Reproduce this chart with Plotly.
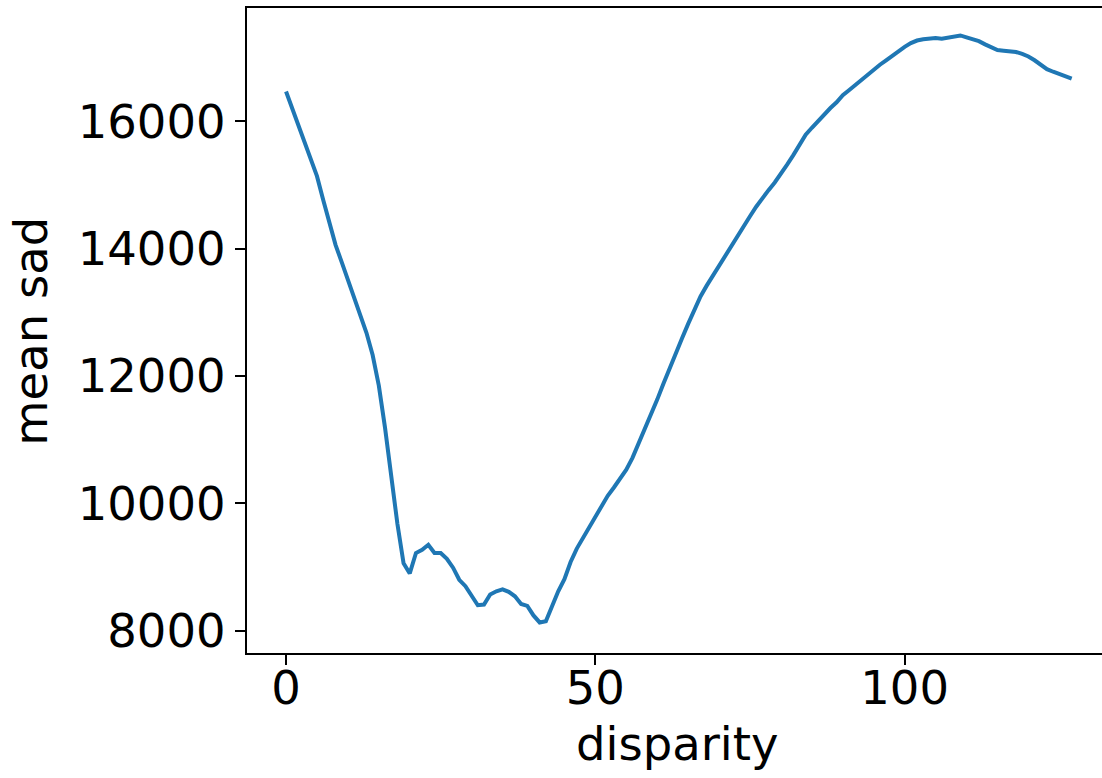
import plotly.graph_objects as go

disparity = list(range(128))
mean_sad = [
    16470, 16210, 15960, 15700, 15430, 15140, 14770, 14390, 14060, 13790,
    13500, 13240, 12960, 12680, 12330, 11850, 11190, 10420, 9680, 9060,
    8900, 9220, 9270, 9350, 9220, 9220, 9130, 8990, 8800, 8700,
    8540, 8400, 8410, 8570, 8620, 8650, 8610, 8540, 8420, 8390,
    8240, 8130, 8150, 8400, 8620, 8810, 9080, 9290, 9460, 9620,
    9790, 9960, 10120, 10250, 10390, 10530, 10715, 10940, 11160, 11390,
    11630, 11880, 12130, 12360, 12590, 12820, 13050, 13250, 13420, 13580,
    13730, 13890, 14040, 14200, 14350, 14510, 14660, 14800, 14920, 15040,
    15170, 15320, 15470, 15620, 15790, 15900, 16010, 16110, 16210, 16300,
    16410, 16490, 16570, 16660, 16750, 16820, 16890, 16960, 17030, 17110,
    17170, 17230, 17270, 17290, 17300, 17310, 17300, 17320, 17340, 17350,
    17320, 17290, 17260, 17210, 17160, 17120, 17110, 17100, 17090, 17060,
    17020, 16960, 16880, 16820, 16780, 16740, 16700, 16670,
]
x_ticks = [0, 50, 100]
y_ticks = [8000, 10000, 12000, 14000, 16000]

FONT = "DejaVu Sans"
FS = 46.5

fig = go.Figure()
fig.add_trace(go.Scatter(x=disparity, y=mean_sad, mode="lines",
                         line=dict(color="#1f77b4", width=4), showlegend=False))

W, H = 1102, 778
L, R, T, B = 247, 0, 8, 125
pw, ph = W - L - R, H - T - B

def px2paper_x(px):
    return (px - L) / pw

def px2paper_y(py):
    return (H - B - py) / ph

fig.update_layout(
    width=W, height=H,
    margin=dict(l=L, r=R, t=T, b=B, pad=0),
    plot_bgcolor="white", paper_bgcolor="white",
    font=dict(family=FONT, size=FS, color="black"),
    xaxis=dict(range=[-6.31, 131.9], tickvals=x_ticks, ticktext=[str(v) for v in x_ticks],
               showgrid=False, zeroline=False, showline=True, linecolor="black", linewidth=2.2,
               mirror=True, ticks="outside", ticklen=10, tickwidth=2.2, tickcolor="black",
               ticklabelstandoff=-17,
               tickfont=dict(family=FONT, size=FS, color="black")),
    yaxis=dict(range=[7650, 17781], tickvals=y_ticks, ticktext=[str(v) for v in y_ticks],
               showgrid=False, zeroline=False, showline=True, linecolor="black", linewidth=2.2,
               mirror=False, ticks="outside", ticklen=10, tickwidth=2.2, tickcolor="black",
               tickfont=dict(family=FONT, size=FS, color="black")),
    annotations=[
        dict(text="disparity", xref="paper", yref="paper", x=px2paper_x(676.5), y=px2paper_y(744),
             xanchor="center", yanchor="middle", showarrow=False,
             font=dict(family=FONT, size=FS, color="black")),
        dict(text="mean sad", xref="paper", yref="paper", x=px2paper_x(31), y=px2paper_y(331.7),
             xanchor="center", yanchor="middle", textangle=-90, showarrow=False,
             font=dict(family=FONT, size=FS, color="black")),
    ],
)

fig.write_html("out.html", config={"displayModeBar": False},
               post_script="document.body.style.margin='0';document.body.style.overflow='hidden';")
